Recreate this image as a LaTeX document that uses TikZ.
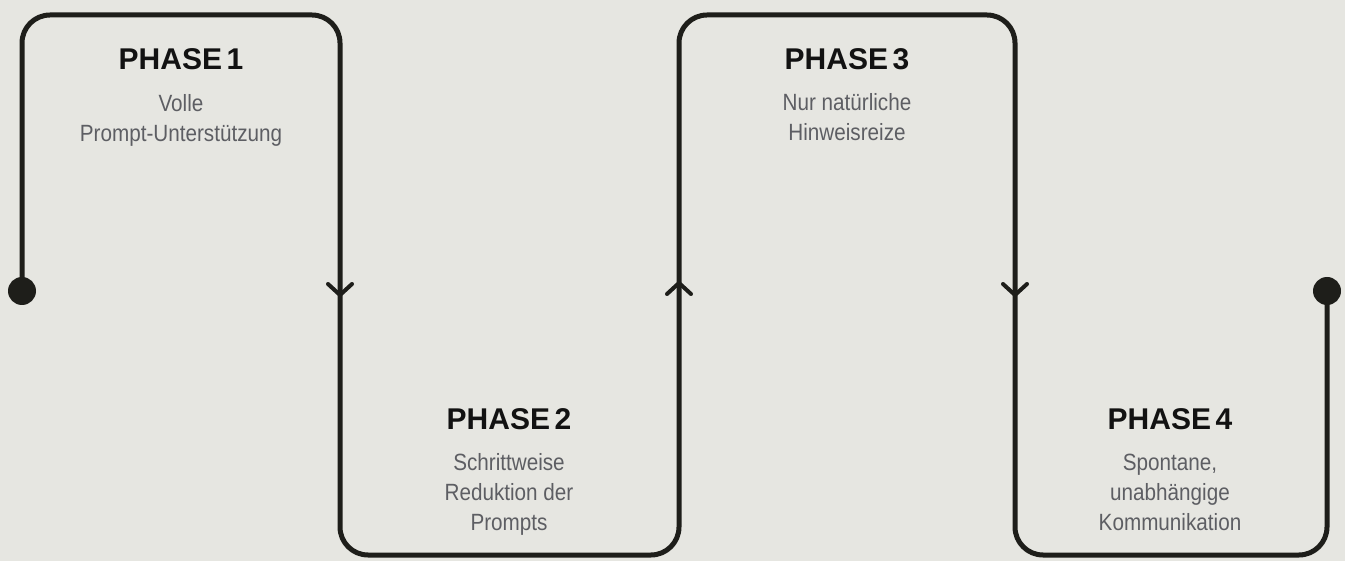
\documentclass[tikz,border=0pt]{standalone}
\usepackage{fontspec}
\setmainfont{Liberation Sans}
\newfontfamily\descfont{Liberation Sans}[FakeStretch=0.88]
\usepackage{tikz}
\usepackage{xcolor}
\usetikzlibrary{positioning}

\definecolor{bgcol}{HTML}{E6E6E1}
\definecolor{linecol}{HTML}{1E1E1A}
\definecolor{titlecol}{HTML}{121212}
\definecolor{desccol}{HTML}{5D5E63}

\begin{document}
\begin{tikzpicture}[x=1pt, y=-1pt,
    route/.style={draw=linecol, line width=5pt, rounded corners=28pt},
    chev/.style={draw=linecol, line width=4pt, line cap=round, line join=miter},
    dot/.style={circle, fill=linecol, inner sep=0pt, minimum size=28pt},
    title/.style={font=\fontsize{30}{36}\selectfont\bfseries, text=titlecol, inner sep=0pt, anchor=base},
    desc/.style={font=\descfont\fontsize{23.5}{30}\selectfont, text=desccol, align=center, inner sep=0pt}]

    \fill[bgcol] (0,0) rectangle (1345,561);
    \useasboundingbox (0,0) rectangle (1345,561);

    % the wave line
    \node[dot] (start) at (22,291) {};
    \node[dot] (end) at (1327,291) {};
    \draw[route] (start.center) -- (22,15) -- (340,15) -- (340,555) -- (679,555)
        -- (679,15) -- (1015,15) -- (1015,555) -- (1327,555) -- (end.center);

    % direction marks
    \coordinate (a1) at (340,295);
    \coordinate (a2) at (679,283);
    \coordinate (a3) at (1015,295);
    \draw[chev] ([shift={(-12,-11)}]a1) -- (a1) -- ([shift={(12,-11)}]a1);
    \draw[chev] ([shift={(-12,11)}]a2) -- (a2) -- ([shift={(12,11)}]a2);
    \draw[chev] ([shift={(-12,-11)}]a3) -- (a3) -- ([shift={(12,-11)}]a3);

    % phases
    \node[title] (p1) at (181,70) {PHASE\hspace{0.15em}1};
    \node[desc, below=23.5pt of p1] (p1text) {Volle\\Prompt-Unterstützung};

    \node[title] (p2) at (509,430) {PHASE\hspace{0.15em}2};
    \node[desc, below=23pt of p2] (p2text) {Schrittweise\\Reduktion der\\Prompts};

    \node[title] (p3) at (847,70) {PHASE\hspace{0.15em}3};
    \node[desc, below=23pt of p3] (p3text) {Nur natürliche\\Hinweisreize};

    \node[title] (p4) at (1170,430) {PHASE\hspace{0.15em}4};
    \node[desc, below=23pt of p4] (p4text) {Spontane,\\unabhängige\\Kommunikation};
\end{tikzpicture}
\end{document}
